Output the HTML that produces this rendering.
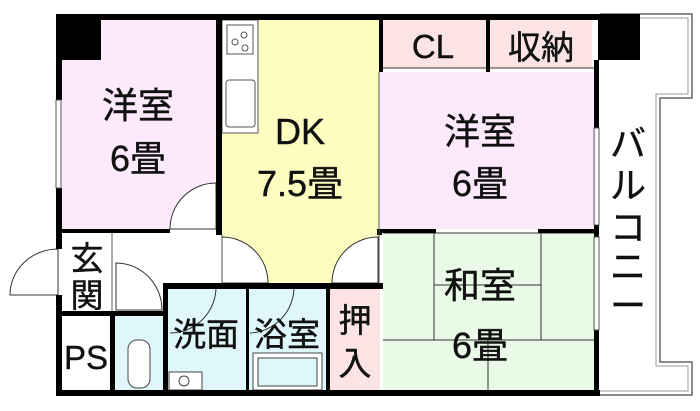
<!DOCTYPE html>
<html><head><meta charset="utf-8"><style>
html,body{margin:0;padding:0;background:#fff;}
svg{display:block;}
text{font-family:"Liberation Sans","Noto Sans CJK JP",sans-serif;fill:#111;stroke:#111;stroke-width:0.4;}
</style></head><body>
<svg width="700" height="411" viewBox="0 0 700 411">
<path d="M600,14 H692 V98 H660 V362 H692 V395 H600" fill="none" stroke="#666" stroke-width="1.5"/>
<path d="M600,18 H688 V94 H656 V366 H688 V391 H600" fill="none" stroke="#999" stroke-width="1"/>
<rect x="62" y="20" width="154" height="209" fill="#fce9fb"/>
<rect x="222" y="20" width="157" height="263" fill="#fdfdc0"/>
<rect x="222" y="20" width="36" height="113" fill="#fff" stroke="#555" stroke-width="1"/>
<rect x="227" y="25" width="26" height="29" fill="#fff" stroke="#555" stroke-width="1"/>
<circle cx="235" cy="42" r="3" fill="none" stroke="#555"/><circle cx="244" cy="35" r="3" fill="none" stroke="#555"/><circle cx="245" cy="48" r="3" fill="none" stroke="#555"/>
<rect x="226" y="80" width="29" height="47" rx="3" fill="#fff" stroke="#555"/>
<rect x="383" y="20" width="103" height="48" fill="#fce4e4"/>
<rect x="490" y="20" width="102" height="48" fill="#fce4e4"/>
<rect x="380" y="72" width="216" height="157" fill="#fce9fb"/>
<rect x="383" y="233" width="213" height="157" fill="#e9fbe6"/>
<rect x="115" y="315" width="48" height="75" fill="#dff7fb"/>
<rect x="167" y="289" width="79" height="101" fill="#dff7fb"/>
<rect x="249" y="289" width="77" height="101" fill="#dff7fb"/>
<rect x="330" y="289" width="50" height="101" fill="#fce4e4"/>
<g stroke="#333" stroke-width="1" fill="none">
<path d="M434,233 V340 M541,233 V340 M383,340 H596 M488,340 V390 M434,285 H541"/>
<path d="M383,68 H596 M383,233 H596"/>
</g>
<g stroke="#333" stroke-width="1" fill="#fff">
<path d="M216,229 H170 A46,46 0 0 1 216,183 Z"/>
<path d="M222,237 V283 H268 A46,46 0 0 0 222,237 Z"/>
<path d="M378,237 V283 H332 A46,46 0 0 1 378,237 Z"/>
<path d="M58,249 V295 H10 A48,46 0 0 1 58,249 Z"/>
<path d="M116,263 V310 H162 A46,47 0 0 0 116,263 Z"/>
<path d="M216,287 A46,46 0 0 1 170,333" fill="none"/>
<path d="M294,287 A46,46 0 0 1 250,333" fill="none"/>
</g>
<rect x="128" y="340" width="22" height="48" rx="9" fill="#fff" stroke="#444"/>
<rect x="169" y="372" width="33" height="18" fill="#fff" stroke="#444"/>
<circle cx="184" cy="381" r="5" fill="none" stroke="#444"/>
<rect x="253" y="353" width="69" height="37" fill="#fff" stroke="#444"/>
<rect x="258" y="358" width="59" height="28" fill="#dff7fb" stroke="#444"/>
<g fill="#000">
<rect x="56" y="14" width="544" height="6"/>
<rect x="56" y="14" width="45" height="46"/>
<rect x="598" y="14" width="42" height="46"/>
<rect x="56" y="14" width="6" height="86"/>
<rect x="56" y="188" width="6" height="61"/>
<rect x="56" y="295" width="6" height="101"/>
<rect x="56" y="390" width="544" height="6"/>
<rect x="216" y="14" width="6" height="221"/>
<rect x="56" y="229" width="114" height="4"/>
<rect x="62" y="311" width="104" height="5"/>
<rect x="110" y="316" width="5" height="74"/>
<rect x="163" y="283" width="5" height="107"/>
<rect x="163" y="283" width="220" height="6"/>
<rect x="246" y="289" width="3" height="101"/>
<rect x="326" y="289" width="4" height="101"/>
<rect x="379" y="14" width="4" height="58"/>
<rect x="486" y="14" width="4" height="58"/>
<rect x="377" y="229" width="5" height="6"/>
<rect x="380" y="229" width="56" height="4"/>
<rect x="538" y="229" width="60" height="4"/>
<rect x="594" y="60" width="5" height="68"/>
<rect x="594" y="330" width="5" height="66"/>
<rect x="594" y="225" width="5" height="12"/>
</g>
<g stroke="#555" stroke-width="1" fill="none">
<rect x="56" y="100" width="5" height="88"/>
<rect x="594" y="128" width="5" height="97"/>
<rect x="594" y="237" width="5" height="93"/>
<path d="M379,72 V283 M112,233 V311 M222,235 V283"/>
</g>
<g font-size="36" text-anchor="middle">
<text x="138" y="118">洋室</text>
<text x="138" y="171">6畳</text>
<text x="300" y="144">DK</text>
<text x="300" y="196">7.5畳</text>
<text x="480" y="144">洋室</text>
<text x="480" y="196">6畳</text>
<text x="480" y="298">和室</text>
<text x="480" y="358">6畳</text>
<text x="628" y="156">バ</text>
<text x="628" y="198">ル</text>
<text x="628" y="240">コ</text>
<text x="628" y="279">ニ</text>
<text x="628" y="318">ー</text>
</g>
<g font-size="33" text-anchor="middle">
<text x="433" y="58">CL</text>
<text x="541" y="59">収納</text>
<text x="87" y="270">玄</text>
<text x="87" y="307">関</text>
<text x="86" y="369">PS</text>
<text x="206" y="346">洗面</text>
<text x="287" y="346">浴室</text>
<text x="355" y="332">押</text>
<text x="355" y="375">入</text>
</g>
</svg>
</body></html>
